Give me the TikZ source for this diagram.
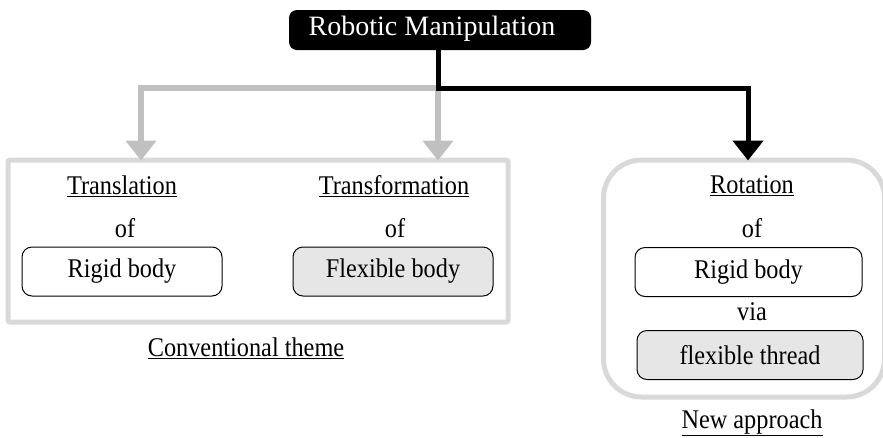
\documentclass[tikz,border=0pt]{standalone}
\usepackage{fontspec}
\usepackage{graphicx}
\setmainfont{Liberation Serif}
\usetikzlibrary{arrows.meta}
\definecolor{framegray}{HTML}{D9D9D9}
\definecolor{linkgray}{HTML}{C0C0C0}
\definecolor{fillgray}{HTML}{E6E6E6}
% slightly condensed text
\newcommand{\cond}[1]{\scalebox{0.9}[1]{#1}}
\tikzset{
  lbl/.style={font=\fontsize{27}{30}\selectfont, inner sep=0pt},
  itembox/.style={draw=black, line width=1pt, rounded corners=10pt,
    minimum width=200pt, minimum height=49pt, inner sep=0pt,
    font=\fontsize{27}{30}\selectfont},
  whitebox/.style={itembox, fill=white},
  graybox/.style={itembox, fill=fillgray},
  graylink/.style={draw=linkgray, line width=6pt,
    -{Triangle[width=30pt,length=20pt]}},
  blacklink/.style={draw=black, line width=5pt,
    -{Triangle[width=30pt,length=20pt]}},
}
\begin{document}
\begin{tikzpicture}[x=1pt,y=-1pt]
  \useasboundingbox (0,0) rectangle (883,437);

  % group frames
  \node[draw=framegray, line width=5pt, rounded corners=2pt,
        minimum width=500pt, minimum height=162pt, inner sep=0pt]
        (cbox) at (258,241) {};
  \node[draw=framegray, line width=5pt, rounded corners=38pt,
        minimum width=281pt, minimum height=237pt, inner sep=0pt]
        (nbox) at (744,278.5) {};

  % root
  \node[fill=black, rounded corners=8pt, minimum width=302pt,
        minimum height=40pt, inner sep=0pt] (rm) at (440,30) {};
  \node[text=white, inner sep=0pt, font=\fontsize{28}{30}\selectfont]
        (rmtext) at (432,29) {Robotic Manipulation};

  % conventional theme
  \node[lbl] (tr) at (122,186) {\cond{\underline{Translation}}};
  \node[lbl] (trof) at (125,228) {\cond{of}};
  \node[whitebox] (rb1) at (122,271.5) {\cond{Rigid body}};

  \node[lbl] (tf) at (394,186) {\cond{\underline{Transformation}}};
  \node[lbl] (tfof) at (395,228) {\cond{of}};
  \node[graybox] (fb) at (393,271.5) {\cond{Flexible body}};

  \node[lbl] (ct) at (246,348) {\cond{\underline{Conventional theme}}};

  % new approach
  \node[lbl] (ro) at (752,186) {\cond{\underline{Rotation}}};
  \node[lbl] (roof) at (752,228) {\cond{of}};
  \node[whitebox, minimum width=227pt] (rb2) at (748.5,272) {\cond{Rigid body}};
  \node[lbl] (via) at (752,312) {\cond{via}};
  \node[graybox, minimum width=226pt] (ft) at (750,355) {\cond{flexible thread}};
  \node[lbl] (na) at (752,423) {\cond{\underline{New approach}}};

  % connectors
  \coordinate (j) at (438,88);
  \draw[graylink] (j) -| ([yshift=-3pt]cbox.north -| 141,0);
  \draw[graylink] (j) -- ([yshift=-3pt]cbox.north -| j);
  \draw[blacklink] (rm.south -| j) -- (j) -| ([yshift=-3pt]nbox.north -| 748,0);
\end{tikzpicture}
\end{document}
